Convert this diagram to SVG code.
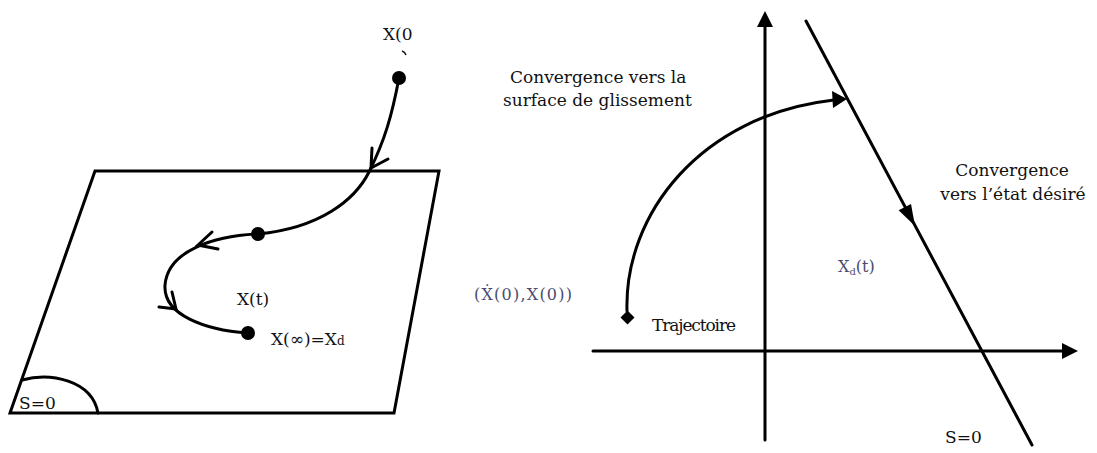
<svg xmlns="http://www.w3.org/2000/svg" width="1097" height="453" viewBox="0 0 1097 453">
<style>
.ln{fill:none;stroke:#000;stroke-width:3;stroke-linecap:round;stroke-linejoin:miter}
.fl{fill:#000;stroke:none}
.t{font-family:"DejaVu Serif","Liberation Serif",serif;font-size:17px;fill:#111}
.c{font-family:"DejaVu Serif","Liberation Serif",serif;font-size:16px;fill:#4b4b6e}
</style>
<rect width="1097" height="453" fill="#fff"/>
<g id="surface">
<polygon class="ln" points="95,171 439,171 394,413 10,413"/>
<path class="ln" d="M22,380 C50,372 92,380 98,413"/>
<text class="t" x="19" y="409">S=0</text>
</g>
<g id="connectors">
<path class="ln" d="M399,78 C392,115 385,140 369,172 C355,200 320,228 258,234"/>
<path class="ln" d="M372,148 L371,168 L388,159"/>
<path class="ln" d="M258,234 C215,236 168,250 165,285 C163,315 205,330 248,333"/>
<path class="ln" d="M212,232 L198,245 L218,249"/>
<path class="ln" d="M172,292 L176,309 L159,307"/>
<path class="ln" d="M627,311 C624,215 700,115 834,100"/>
<polygon class="fl" points="847,99 832,91 833,108"/>
<line class="ln" x1="806" y1="21" x2="1032" y2="445"/>
<polygon class="fl" points="915,226 911,204 898.6,210.3"/>
</g>
<g id="axes">
<line class="ln" x1="765" y1="440" x2="765" y2="24"/>
<polygon class="fl" points="765,11 757,27 773,27"/>
<line class="ln" x1="593" y1="351" x2="1064" y2="351"/>
<polygon class="fl" points="1078,351 1062,343 1062,359"/>
</g>
<g id="x0">
<circle cx="399" cy="78" r="7" class="fl"/>
<text class="t" x="383" y="40">X(0</text>
<path d="M402,51 Q405,52 406,55" fill="none" stroke="#111" stroke-width="1.5"/>
</g>
<g id="xt">
<circle cx="258" cy="234" r="7" class="fl"/>
<text class="t" x="237" y="305">X(t)</text>
</g>
<g id="xinf">
<circle cx="248" cy="333" r="7" class="fl"/>
<text class="t" x="271" y="345">X(∞)=X<tspan font-size="12">d</tspan></text>
</g>
<g id="start">
<polygon class="fl" points="627.5,310.5 634.5,317.5 627.5,324.5 620.5,317.5"/>
<text class="c" x="474" y="300" textLength="98">(Ẋ(0),X(0))</text>
<text class="t" x="652" y="331" font-size="15" textLength="84">Trajectoire</text>
</g>
<g id="labels">
<text class="t" x="510" y="83">Convergence vers la</text>
<text class="t" x="503" y="106">surface de glissement</text>
<text class="t" x="1012" y="176" text-anchor="middle">Convergence</text>
<text class="t" x="1013" y="200" text-anchor="middle">vers l’état désiré</text>
<text class="c" x="838" y="272" font-size="15">X<tspan font-size="10" dy="3">d</tspan><tspan dy="-3">(t)</tspan></text>
<text class="t" x="945" y="443">S=0</text>
</g>
</svg>
